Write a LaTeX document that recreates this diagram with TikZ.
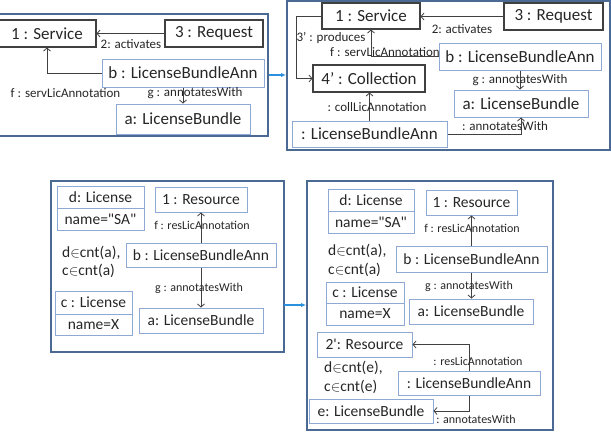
\documentclass[tikz,border=0pt]{standalone}
\usepackage{fontspec}
\setmainfont{Carlito}[Ligatures=TeXOff]
\usetikzlibrary{arrows.meta}
\definecolor{txt}{HTML}{262626}
\definecolor{darkb}{HTML}{404040}
\definecolor{lblue}{HTML}{8EA9D5}
\definecolor{framec}{HTML}{4A6A94}
\definecolor{arrc}{HTML}{404040}
\definecolor{linkc}{HTML}{2A90E0}
\begin{document}
\begin{tikzpicture}[x=1pt,y=-1pt,
 base/.style={inner sep=0pt, text=txt, anchor=center},
 dbox/.style={base, draw=darkb, line width=1.1pt, font=\fontsize{17}{20}\selectfont},
 bbox/.style={base, draw=lblue, line width=1pt, font=\fontsize{17}{20}\selectfont},
 sbox/.style={base, draw=lblue, line width=1pt, font=\fontsize{15.5}{18}\selectfont},
 lbl/.style={base, font=\fontsize{13}{15}\selectfont},
 slbl/.style={base, font=\fontsize{12}{14}\selectfont},
 stxt/.style={base, font=\fontsize{15.5}{18}\selectfont, anchor=west},
 conn/.style={draw=arrc, line width=0.8pt, -{Straight Barb[length=3pt,width=7pt]}},
 frame/.style={draw=framec, line width=1.6pt, inner sep=0pt},
 link/.style={draw=linkc, line width=1.2pt, -{Latex[length=5pt,width=4pt]}},
]
\useasboundingbox (0,0) rectangle (611,432);

% ---------------- Panel 1 ----------------
\node[frame, minimum width=271pt, minimum height=122pt] (P1) at (132.5,75) {};
\node[dbox, minimum width=98pt, minimum height=27pt] (S1) at (47,33.5) {1 : Service};
\node[dbox, minimum width=98pt, minimum height=27pt] (R1) at (214,33.5) {3 : Request};
\node[bbox, minimum width=162pt, minimum height=28pt] (B1) at (183,73) {b : LicenseBundleAnn};
\node[bbox, minimum width=134pt, minimum height=30pt] (A1) at (183,119) {a: LicenseBundle};
\draw[conn] (R1.west) -- (S1.east);
\node[lbl] (l1a) at (131,44) {2: activates};
\draw[conn] (B1.west) -| (S1.south);
\node[lbl] (l1f) at (65.5,93) {f : servLicAnnotation};
\draw[conn] (B1.south) -- (A1.north);
\node[lbl] (l1g) at (195,93) {g : annotatesWith};

% ---------------- Panel 2 ----------------
\node[frame, minimum width=323pt, minimum height=149pt] (P2) at (448.5,75.5) {};
\node[dbox, minimum width=98pt, minimum height=26pt] (S2) at (371,16) {1 : Service};
\node[dbox, minimum width=99pt, minimum height=27pt] (R2) at (553.5,16.5) {3 : Request};
\node[bbox, minimum width=162pt, minimum height=27pt] (B2) at (520,56.5) {b : LicenseBundleAnn};
\node[dbox, minimum width=112pt, minimum height=27pt] (C2) at (369,78.5) {4’ : Collection};
\node[bbox, minimum width=134pt, minimum height=27pt] (A2) at (521,103.5) {a: LicenseBundle};
\node[bbox, minimum width=155pt, minimum height=26pt] (L2) at (369.5,134) {: LicenseBundleAnn};
\draw[conn] (R2.west) -- (R2.west -| S2.east);
\node[lbl] (l2a) at (462,29) {2: activates};
\draw[conn] (S2.west) -- ++(-25,0) |- (C2.west);
\node[lbl] (l2p) at (331,38) {3’ : produces};
\draw[conn] (B2.west) -| (S2.south);
\node[lbl] (l2f) at (385,52) {f : servLicAnnotation};
\draw[conn] (B2.south) -- (B2.south |- A2.north);
\node[lbl] (l2g) at (520,80) {g : annotatesWith};
\draw[conn] (L2.north) -- (L2.north |- C2.south);
\node[lbl] (l2c) at (377,107) {: collLicAnnotation};
\draw[conn] (L2.east) -| (A2.south);
\node[lbl] (l2w) at (505,126) {: annotatesWith};

\draw[link] (P1.east) -- (P1.east -| P2.west);

% ---------------- Panel 3 ----------------
\node[frame, minimum width=233pt, minimum height=171pt] (P3) at (167.5,266.5) {};
\node[sbox, minimum width=87pt, minimum height=22pt] (D3a) at (100.5,197) {d: License};
\node[sbox, minimum width=87pt, minimum height=22pt] (D3b) at (100.5,219) {name="SA"};
\node[sbox, minimum width=92pt, minimum height=25pt] (Res3) at (201,199.5) {1 : Resource};
\node[sbox, minimum width=150pt, minimum height=24pt] (B3) at (201,255) {b : LicenseBundleAnn};
\node[sbox, minimum width=77pt, minimum height=23pt] (C3a) at (93.5,302.5) {c : License};
\node[sbox, minimum width=77pt, minimum height=21pt] (C3b) at (93.5,324.5) {name=X};
\node[sbox, minimum width=124pt, minimum height=25pt] (A3) at (201,320.5) {a: LicenseBundle};
\node[stxt] (t3a) at (62,253) {d$\in$cnt(a),};
\node[stxt] (t3b) at (62,271) {c$\in$cnt(a)};
\draw[conn] (B3.north) -- (Res3.south);
\node[slbl] (l3f) at (202,225) {f : resLicAnnotation};
\draw[conn] (B3.south) -- (A3.north);
\node[slbl] (l3g) at (199,288) {g : annotatesWith};

% ---------------- Panel 4 ----------------
\node[frame, minimum width=246pt, minimum height=249pt] (P4) at (430,305.5) {};
\node[sbox, minimum width=86pt, minimum height=22pt] (D4a) at (371,200) {d: License};
\node[sbox, minimum width=86pt, minimum height=22pt] (D4b) at (371,222) {name="SA"};
\node[sbox, minimum width=91pt, minimum height=25pt] (Res4) at (471.5,202.5) {1 : Resource};
\node[sbox, minimum width=151pt, minimum height=26pt] (B4) at (471.5,259) {b : LicenseBundleAnn};
\node[sbox, minimum width=78pt, minimum height=21pt] (C4a) at (365,292.5) {c : License};
\node[sbox, minimum width=78pt, minimum height=22pt] (C4b) at (365,314) {name=X};
\node[sbox, minimum width=124pt, minimum height=25pt] (A4) at (471,311.5) {a: LicenseBundle};
\node[stxt] (t4a) at (328,251) {d$\in$cnt(a),};
\node[stxt] (t4b) at (328,270) {c$\in$cnt(a)};
\draw[conn] (B4.north) -- (Res4.south);
\node[slbl] (l4f) at (472,228) {f : resLicAnnotation};
\draw[conn] (B4.south) -- (B4.south |- A4.north);
\node[slbl] (l4g) at (469,286) {g : annotatesWith};
\node[sbox, minimum width=95pt, minimum height=25pt] (Res4p) at (364.5,344.5) {2': Resource};
\node[stxt] (t4c) at (324,368) {d$\in$cnt(e),};
\node[stxt] (t4d) at (324,387) {c$\in$cnt(e)};
\node[sbox, minimum width=142pt, minimum height=24pt] (L4) at (469,383) {: LicenseBundleAnn};
\node[sbox, minimum width=124pt, minimum height=24pt] (E4) at (371,411) {e: LicenseBundle};
\draw[conn] (L4.north) |- (Res4p.east);
\node[slbl] (l4r) at (478,361) {: resLicAnnotation};
\draw[conn] (L4.south) |- (E4.east);
\node[slbl] (l4w) at (476,419) {: annotatesWith};

\coordinate (k3) at (284,305);
\draw[link] (k3) -- (k3 -| P4.west);
\end{tikzpicture}
\end{document}
